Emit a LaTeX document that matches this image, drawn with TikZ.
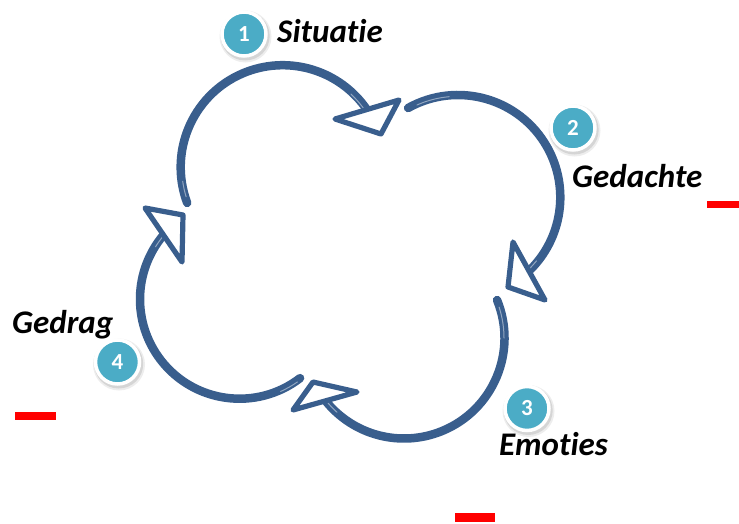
\documentclass[tikz,border=0pt]{standalone}
\usepackage{fontspec}
\setmainfont{Carlito}[Ligatures=NoCommon]
\begin{document}
\begin{tikzpicture}[x=1pt,y=-1pt]
\definecolor{arcblue}{RGB}{57,94,141}
\definecolor{badge}{RGB}{75,172,198}
\definecolor{dashred}{RGB}{255,0,0}
\tikzset{
  shaft/.style={draw=arcblue, line width=8.5pt, line cap=round},
  head/.style={draw=arcblue, fill=white, line width=5.2pt, line join=round},
  gloss/.style={draw=white, opacity=0.45, line width=1pt, line cap=round},
  badgenum/.style={circle, fill=badge, draw=white, line width=3.5pt,
    minimum size=44pt, inner sep=0pt, text=white,
    font=\fontsize{23}{23}\selectfont\bfseries},
  steplabel/.style={anchor=base west, inner sep=0pt,
    font=\fontsize{33}{36}\selectfont\bfseries\itshape},
  reddash/.style={fill=dashred}
}
\useasboundingbox (0,0) rectangle (739,523);

% centres of the four arcs
\coordinate (c1) at (282.7,167.2);
\coordinate (c2) at (458,197.3);
\coordinate (c3) at (404,338);
\coordinate (c4) at (239.5,299.2);

% arc shafts
\draw[shaft] (c1) ++(159.5:102) arc[start angle=159.5, end angle=325.6, radius=102];
\draw[shaft] (c2) ++(240.8:102.3) arc[start angle=240.8, end angle=406.1, radius=102.3];
\draw[shaft] (c3) ++(-22.2:100.5) arc[start angle=-22.2, end angle=141.4, radius=100.5];
\draw[shaft] (c4) ++(52.5:99.5) arc[start angle=52.5, end angle=220.2, radius=99.5];

% light bevel streaks on the shafts
\draw[gloss] (c1) ++(163:101) arc[start angle=163, end angle=172, radius=101];
\draw[gloss] (c1) ++(313:100) arc[start angle=313, end angle=324, radius=100];
\draw[gloss] (c2) ++(246:101) arc[start angle=246, end angle=265, radius=101];
\draw[gloss] (c2) ++(39:101) arc[start angle=39, end angle=45, radius=101];
\draw[gloss] (c3) ++(-18:100) arc[start angle=-18, end angle=0, radius=100];
\draw[gloss] (c3) ++(132:100) arc[start angle=132, end angle=140, radius=100];
\draw[gloss] (c4) ++(55:101) arc[start angle=55, end angle=66, radius=101];
\draw[gloss] (c4) ++(212:99) arc[start angle=212, end angle=219, radius=99];

% hollow arrowheads
\draw[head] (335,119) -- (381,134) -- (399,100) -- cycle;
\draw[head] (513,242) -- (508,287) -- (545,300) -- cycle;
\draw[head] (293,410) -- (313,382) -- (357,392) -- cycle;
\draw[head] (145,208) -- (183,215) -- (182,262) -- cycle;

% numbered badges with soft shadows
\foreach \nm/\px/\py/\num in {n1/244/34/1, n2/573/128/2, n3/527/408.5/3, n4/117.5/362/4}{
  \fill[black, opacity=0.07] (\px+1.5,\py+2.5) circle (26);
  \fill[black, opacity=0.10] (\px+1.2,\py+2) circle (24.5);
  \node[badgenum] (\nm) at (\px,\py) {\num};
}

% step labels
\node[steplabel] (t1) at (277,42) {Situatie};
\node[steplabel] (t2) at (572,187) {Gedachte};
\node[steplabel] (t3) at (499,455) {Emoties};
\node[steplabel] (t4) at (12,333) {Gedrag};

% red dashes
\fill[reddash] (707,201) rectangle (739,208);
\fill[reddash] (15,412) rectangle (56,420);
\fill[reddash] (455,513) rectangle (495,521.5);
\end{tikzpicture}
\end{document}
